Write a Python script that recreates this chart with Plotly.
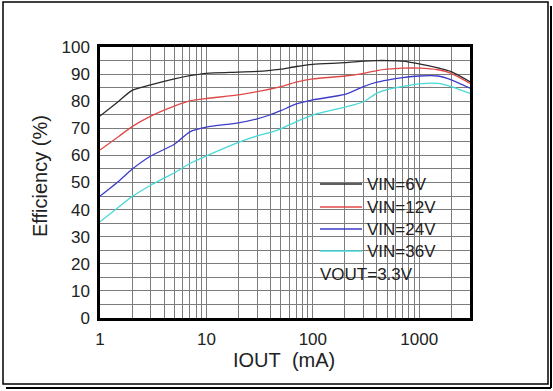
import plotly.graph_objects as go
import math

# ---- data ----
iout = [1, 1.5, 2, 3, 5, 7, 10, 20, 30, 40, 50, 70, 100, 200, 300, 400, 500, 700, 1000, 1500, 2000, 3000]
vin6 = [74.5, 80.0, 84.0, 86.0, 88.2, 89.4, 90.3, 90.7, 91.0, 91.4, 91.8, 92.8, 93.6, 94.2, 94.8, 95.0, 95.0, 94.8, 93.8, 92.3, 90.9, 87.2]
vin12 = [62.0, 67.0, 70.6, 74.5, 78.2, 80.1, 81.0, 82.3, 83.5, 84.5, 85.4, 87.0, 88.2, 89.3, 90.3, 91.3, 91.8, 92.2, 92.2, 91.6, 90.3, 86.6]
vin24 = [45.0, 50.5, 54.9, 59.8, 64.1, 68.7, 70.4, 72.0, 73.5, 75.0, 76.5, 79.0, 80.5, 82.5, 85.4, 87.0, 87.8, 88.7, 89.3, 89.3, 87.9, 84.8]
vin36 = [35.5, 41.0, 44.8, 49.0, 53.6, 57.0, 59.8, 64.8, 67.2, 68.5, 69.8, 72.5, 74.9, 77.8, 79.8, 83.0, 84.3, 85.4, 86.4, 86.6, 85.4, 82.9]

series_names = ["VIN=6V", "VIN=12V", "VIN=24V", "VIN=36V"]
series_vals = [vin6, vin12, vin24, vin36]
colors = ["#2a2a2a", "#e04848", "#3c3cc8", "#48d8d8"]

x_major = [1, 10, 100, 1000]
x_minor = [m * d for d in [1, 10, 100, 1000] for m in range(2, 10) if m * d <= 3000]
note_text = "VOUT=3.3V"
x_title = "IOUT\u00a0 (mA)"
y_title = "Efficiency (%)"

fig = go.Figure()
for name, vals, col in zip(series_names, series_vals, colors):
    fig.add_trace(go.Scatter(x=iout, y=vals, mode="lines", name=name,
                             line=dict(color=col, width=1.3, shape="spline", smoothing=0.6),
                             showlegend=False))

# plot area in pixels: x 100..470, y 47..318
L, R, T, B = 100, 470, 47, 318
W, H = R - L, B - T
def px(x):
    return (x - L) / W
def py(y):
    return (B - y) / H

shapes = []
# legend white box (above grid, below traces)
shapes.append(dict(type="rect", xref="paper", yref="paper", x0=px(310), x1=px(447), y0=py(285), y1=py(167),
                   fillcolor="white", line=dict(width=0), layer="between"))
rows = [184, 207, 229, 251]
annotations = []
for name, col, ry in zip(series_names, colors, rows):
    shapes.append(dict(type="line", xref="paper", yref="paper", x0=px(320), x1=px(362), y0=py(ry), y1=py(ry),
                       line=dict(color=col, width=1.3)))
    annotations.append(dict(text=name, xref="paper", yref="paper", x=px(365), y=py(ry), xanchor="left",
                            yanchor="middle", showarrow=False, font=dict(size=17, color="#222")))
annotations.append(dict(text=note_text, xref="paper", yref="paper", x=px(318), y=py(274), xanchor="left",
                        yanchor="middle", showarrow=False, font=dict(size=17, color="#222")))
# axis titles
annotations.append(dict(text=y_title, xref="paper", yref="paper", x=px(40), y=py(176), textangle=-90,
                        xanchor="center", yanchor="middle", showarrow=False, font=dict(size=20, color="#222")))
annotations.append(dict(text=x_title, xref="paper", yref="paper", x=px(284), y=py(360),
                        xanchor="center", yanchor="middle", showarrow=False, font=dict(size=20, color="#222")))

# outer frame with shadow
shapes.append(dict(type="rect", xref="paper", yref="paper", x0=px(3), x1=px(548), y0=py(384), y1=py(2),
                   line=dict(color="black", width=1.5), layer="above"))
shapes.append(dict(type="line", xref="paper", yref="paper", x0=px(551), x1=px(551), y0=py(388), y1=py(6),
                   line=dict(color="black", width=2)))
shapes.append(dict(type="line", xref="paper", yref="paper", x0=px(6), x1=px(551), y0=py(388), y1=py(388),
                   line=dict(color="black", width=2)))

grid_col = "#7c7c7c"
fig.update_layout(
    width=553, height=391,
    margin=dict(l=L, r=553 - R, t=T, b=391 - B),
    paper_bgcolor="white", plot_bgcolor="white",
    font=dict(family="Liberation Sans, Arial, sans-serif", color="#222"),
    shapes=shapes, annotations=annotations,
    xaxis=dict(type="log", range=[0, math.log10(3000)], tickmode="array", tickvals=x_major,
               ticktext=[str(v) for v in x_major], showgrid=True, gridcolor=grid_col, gridwidth=1,
               minor=dict(tickmode="array", tickvals=x_minor, showgrid=True, gridcolor=grid_col, gridwidth=1.1),
               showline=True, mirror=True, linecolor="black", linewidth=2.5,
               ticks="outside", ticklen=4, tickcolor="rgba(0,0,0,0)",
               tickfont=dict(size=17, color="#222"), zeroline=False),
    yaxis=dict(range=[0, 100], dtick=10, showgrid=True, gridcolor=grid_col, gridwidth=1,
               minor=dict(dtick=5, showgrid=True, gridcolor=grid_col, gridwidth=1),
               showline=True, mirror=True, linecolor="black", linewidth=2.5,
               ticks="outside", ticklen=4, tickcolor="rgba(0,0,0,0)",
               tickfont=dict(size=17, color="#222"), zeroline=False),
)
fig.write_html("out.html", config={"displayModeBar": False},
               post_script="document.body.style.margin='0';document.body.style.overflow='hidden';")
